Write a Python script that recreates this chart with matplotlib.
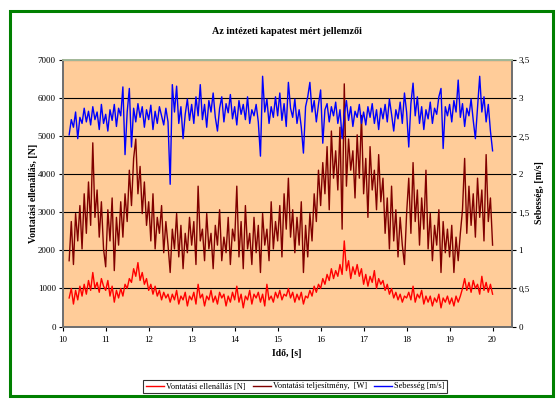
import numpy as np
import matplotlib
matplotlib.use("Agg")
import matplotlib.pyplot as plt
from matplotlib.patches import Rectangle

plt.rcParams['font.family'] = ['Liberation Serif', 'DejaVu Serif']

title = "Az intézeti kapatest mért jellemzői"
xlabel = "Idő, [s]"
ylabel_left = "Vontatási ellenállás, [N]"
ylabel_right = "Sebesség, [m/s]"
labels = ["Vontatási ellenállás [N]", "Vontatási teljesítmény,  [W]", "Sebesség [m/s]"]

t_start, t_step, n_pts = 10.15, 0.05, 198
time = np.round(t_start + t_step * np.arange(n_pts), 3)

power = [1730, 2760, 1630, 2970, 2250, 3180, 2040,
         3490, 2450, 3800, 2660, 4830, 2870, 3590, 2350, 3280, 2040,
         1570, 3070, 2250, 3380, 1470, 2870, 2140, 3280, 2350, 3490,
         2760, 4110, 3180, 4420, 4930, 3490, 4210, 2970, 3800, 2660,
         3280, 2250, 3490, 2040, 2870, 2450, 3180, 1940, 2760, 2140,
         1420, 2560, 2040, 2970, 1830, 2660, 1520, 2450, 1940, 2870,
         2140, 2760, 1630, 3690, 2250, 2560, 1730, 2970, 2040, 2450,
         1520, 2660, 2140, 3070, 1730, 2350, 1940, 2870, 1630, 2560,
         2250, 3690, 1830, 2760, 1520, 3180, 2040, 2450, 1630, 2870,
         1940, 2660, 1420, 2970, 2140, 2560, 1730, 3280, 2040, 2760,
         2250, 3180, 1830, 3490, 2560, 3900, 2350, 3070, 1940, 2870,
         2140, 3280, 1420, 2660, 1830, 2970, 2250, 3490, 2760, 4110,
         3180, 4310, 3490, 4730, 3070, 5140, 3900, 4620, 3590, 5240,
         2560, 6380, 3690, 4930, 4110, 4620, 3380, 5040, 3900, 5550,
         3490, 4420, 2870, 4730, 3590, 4110, 3070, 4520, 3280, 3900,
         2450, 3380, 2040, 3690, 2250, 3070, 1830, 2870, 2140, 1630,
         2970, 3900, 2450, 4310, 2760, 3590, 2140, 3380, 2560, 4110,
         2040, 2970, 1730, 2660, 2140, 3070, 1420, 2760, 1940, 2560,
         1830, 2660, 1420, 2350, 1730, 2450, 3070, 4420, 2450, 3690,
         2660, 3490, 2350, 3900, 2870, 3590, 2250, 4520, 2760, 3380,
         2140]

force = [750, 1000, 590, 950, 700, 1060, 800,
         1110, 850, 1210, 950, 1420, 1000, 1160, 900, 1260, 1060,
         950, 1210, 800, 1060, 640, 950, 750, 1000, 800, 1110,
         1000, 1260, 1160, 1520, 1320, 1680, 1210, 1420, 1110, 1260,
         950, 1110, 850, 1060, 800, 950, 700, 900, 750, 850,
         640, 850, 700, 950, 590, 800, 700, 900, 540, 800,
         700, 900, 590, 1110, 750, 850, 540, 800, 700, 950,
         640, 800, 590, 900, 750, 850, 540, 800, 640, 900,
         700, 1060, 640, 850, 490, 800, 700, 950, 590, 850,
         750, 900, 640, 850, 540, 1110, 700, 800, 640, 900,
         750, 950, 700, 850, 800, 1000, 750, 900, 640, 850,
         700, 900, 590, 800, 750, 950, 800, 1060, 900, 1110,
         1000, 1260, 1110, 1370, 1210, 1520, 1260, 1470, 1320, 1630,
         1370, 2250, 1470, 1730, 1260, 1570, 1370, 1630, 1320, 1520,
         1110, 1370, 1060, 1320, 1160, 1470, 1000, 1260, 1110, 1210,
         950, 1110, 850, 1000, 750, 900, 700, 850, 640, 800,
         750, 900, 700, 1060, 640, 850, 750, 950, 590, 800,
         640, 800, 540, 750, 640, 850, 490, 750, 640, 800,
         590, 750, 540, 800, 640, 800, 1000, 1260, 950, 1160,
         900, 1210, 1000, 1110, 850, 1320, 950, 1160, 900, 1110,
         850]

speed = [2.52, 2.72, 2.62, 2.82, 2.47, 2.75, 2.67,
         2.87, 2.69, 2.83, 2.65, 2.89, 2.72, 2.82, 2.59, 2.92, 2.67,
         2.79, 2.57, 2.85, 2.71, 2.92, 2.63, 2.87, 2.77, 3.15, 2.26,
         2.82, 3.13, 2.36, 2.87, 2.69, 2.93, 2.75, 2.89, 2.62, 2.85,
         2.72, 2.91, 2.59, 2.83, 2.67, 2.89, 2.77, 2.65, 2.87, 2.69,
         1.87, 3.18, 2.82, 3.16, 2.67, 2.89, 2.47, 2.79, 2.99, 2.71,
         2.92, 2.67, 3.02, 2.77, 3.18, 2.72, 2.92, 2.62, 2.97, 2.82,
         3.07, 2.75, 2.57, 2.87, 3.02, 2.69, 2.93, 2.81, 3.05, 2.73,
         2.89, 2.65, 2.97, 2.79, 2.92, 2.72, 3.02, 2.67, 2.85, 2.77,
         2.92, 2.69, 2.24, 3.29, 2.82, 2.99, 2.67, 2.89, 2.75, 3.02,
         2.77, 3.07, 2.71, 2.93, 2.63, 3.21, 2.87, 2.75, 2.99, 2.67,
         2.85, 2.62, 2.28, 2.89, 3.02, 3.21, 2.82, 2.97, 2.69, 2.92,
         3.11, 2.41, 2.85, 2.93, 2.69, 2.89, 2.77, 2.95, 2.67, 2.85,
         2.47, 2.79, 2.97, 2.71, 2.89, 2.63, 2.83, 2.75, 2.92, 2.67,
         2.82, 2.65, 2.89, 2.75, 2.93, 2.67, 2.85, 2.59, 2.87, 2.73,
         2.92, 2.69, 2.99, 2.79, 2.57, 2.85, 2.73, 2.95, 2.67, 3.07,
         2.82, 2.36, 2.93, 3.20, 2.77, 3.02, 2.67, 2.89, 2.59, 2.85,
         2.73, 2.95, 2.67, 2.87, 2.79, 3.02, 3.13, 2.34, 2.89, 2.77,
         2.92, 2.69, 2.97, 2.82, 3.24, 2.75, 2.93, 2.63, 2.87, 2.77,
         2.99, 2.71, 2.47, 2.89, 3.29, 2.82, 3.02, 2.69, 2.92, 2.57,
         2.31]

x_ticks = list(range(10, 21))
left_ticks = list(range(0, 7001, 1000))
right_ticks = [0, 0.5, 1, 1.5, 2, 2.5, 3, 3.5]
right_ticklabels = ["0", "0,5", "1", "1,5", "2", "2,5", "3", "3,5"]

W, H = 558, 399
fig = plt.figure(figsize=(W / 100, H / 100), dpi=100)
fig.patch.set_facecolor('white')

# green outer frame
fig.add_artist(Rectangle((9.5 / W, 1 - 396 / H), (553 - 9.5) / W, (396 - 11) / H,
                         transform=fig.transFigure, fill=False,
                         edgecolor='#008000', linewidth=2.2))

L, R, T, B = 62.7, 511.5, 60.3, 326.5
ax = fig.add_axes([L / W, 1 - B / H, (R - L) / W, (B - T) / H])
ax.set_facecolor('#FFCC99')
ax.set_xlim(10, 20.44)
ax.set_ylim(0, 7000)
ax.set_xticks(x_ticks)
ax.set_yticks(left_ticks)
ax.yaxis.grid(True, color='black', linewidth=0.8)
ax.set_axisbelow(True)

l1, = ax.plot(time, force, color='#FF0000', linewidth=1.0, label=labels[0])
l2, = ax.plot(time, power, color='#800000', linewidth=1.0, label=labels[1])

ax2 = ax.twinx()
ax2.set_ylim(0, 3.5)
ax2.set_yticks(right_ticks)
ax2.set_yticklabels(right_ticklabels)
l3, = ax2.plot(time, speed, color='#0000FF', linewidth=1.0, label=labels[2])

for a in (ax, ax2):
    for s in ('left', 'right', 'bottom'):
        a.spines[s].set_color('#707070')
        a.spines[s].set_linewidth(1.3)
    a.spines['top'].set_color('#A3B899')
    a.spines['top'].set_linewidth(1.3)
    a.tick_params(direction='out', length=3, width=0.8, color='black',
                  labelsize=6.5, pad=2, labelcolor='black')

ax.tick_params(axis='x', pad=4)

fig.text(0.5 * (L + R) / W, 1 - 32 / H, title, ha='center', va='center',
         fontsize=7.3, fontweight='bold')
fig.text(0.5 * (L + R) / W, 1 - 353 / H, xlabel, ha='center', va='center',
         fontsize=7, fontweight='bold')
fig.text(33 / W, 1 - 193 / H, ylabel_left, ha='center', va='center',
         rotation=90, fontsize=7, fontweight='bold')
fig.text(540 / W, 1 - 193 / H, ylabel_right, ha='center', va='center',
         rotation=90, fontsize=7, fontweight='bold')

leg = fig.legend(handles=[l1, l2, l3], loc='center', bbox_to_anchor=(295 / W, 1 - 386.5 / H),
                 ncol=3, fontsize=6, frameon=True, fancybox=False, borderpad=0.25,
                 handlelength=2.2, handletextpad=0.2, columnspacing=0.9,
                 borderaxespad=0)
leg.get_frame().set_edgecolor('black')
leg.get_frame().set_linewidth(0.8)

fig.savefig('out.png', dpi=100)
